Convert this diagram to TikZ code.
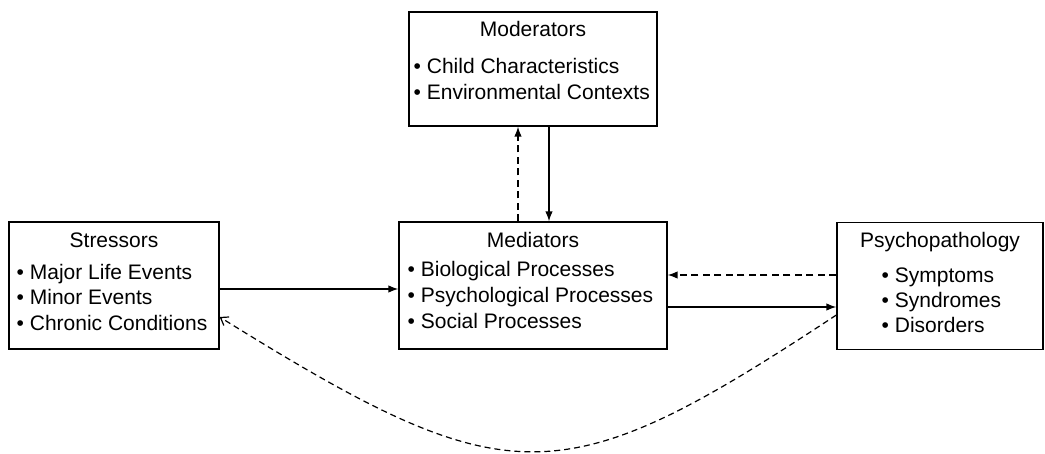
\documentclass[tikz,border=0pt]{standalone}
\usepackage{fontspec}
\setmainfont{Liberation Sans}
\usetikzlibrary{arrows.meta}

\tikzset{
  block/.style={draw, line width=1.3pt, minimum height=127pt, inner sep=0pt},
  head/.style={font=\fontsize{21}{26}\selectfont, anchor=base, inner sep=0pt},
  items/.style={font=\fontsize{21}{#1}\selectfont, align=left, anchor=base west, inner sep=0pt},
  items/.default=26pt,
  dashline/.style={dash pattern=on 7pt off 4.5pt},
}

\begin{document}
\begin{tikzpicture}[x=1pt,y=-1pt,>={Latex[length=10pt,width=7.5pt]},line width=1.4pt]
\useasboundingbox (0,0) rectangle (1045,454);

% boxes
\node[block,minimum width=248pt,minimum height=114pt] (mod) at (533,69)    {};
\node[block,minimum width=210pt]                      (str) at (114,285.5) {};
\node[block,minimum width=268pt]                      (med) at (533,285.5) {};
\node[block,minimum width=206pt]                      (psy) at (940,286)   {};

% texts (lists sit on the baseline of their last line)
\node[head]  (modT) at (533,36.5) {Moderators};
\node[items] (modL) at (413,99.5) {\textbullet\ Child Characteristics\\
                                   \textbullet\ Environmental Contexts};
\node[head]  (strT) at (114,247.5) {Stressors};
\node[items=25.5pt] (strL) at (16,330.5) {\textbullet\ Major Life Events\\
                                   \textbullet\ Minor Events\\
                                   \textbullet\ Chronic Conditions};
\node[head]  (medT) at (533,247.5) {Mediators};
\node[items] (medL) at (407,328.5) {\textbullet\ Biological Processes\\
                                   \textbullet\ Psychological Processes\\
                                   \textbullet\ Social Processes};
\node[head]  (psyT) at (940,247.5) {Psychopathology};
\node[items=25pt] (psyL) at (881,332.5) {\textbullet\ Symptoms\\
                                   \textbullet\ Syndromes\\
                                   \textbullet\ Disorders};

% arrows
\draw[->] ([yshift=-3.5pt]str.east) -- ([yshift=-3.5pt]med.west);
\draw[->] ([yshift=-21.5pt]med.east) -- ([yshift=-21pt]psy.west);
\draw[->,dashline] ([yshift=11pt]psy.west) -- ([yshift=10.5pt]med.east);
\draw[->,dashline] ([xshift=-15pt]med.north) -- ([xshift=-15pt]mod.south);
\draw[->] ([xshift=16pt]mod.south) -- ([xshift=16pt]med.north);
\draw[-{Straight Barb[length=7pt,width=10pt]},line width=1.2pt,dash pattern=on 6pt off 4pt]
  ([yshift=-29pt]psy.west) .. controls +(-276,182) and +(290,180) .. ([yshift=-31.5pt]str.east);
\end{tikzpicture}
\end{document}
